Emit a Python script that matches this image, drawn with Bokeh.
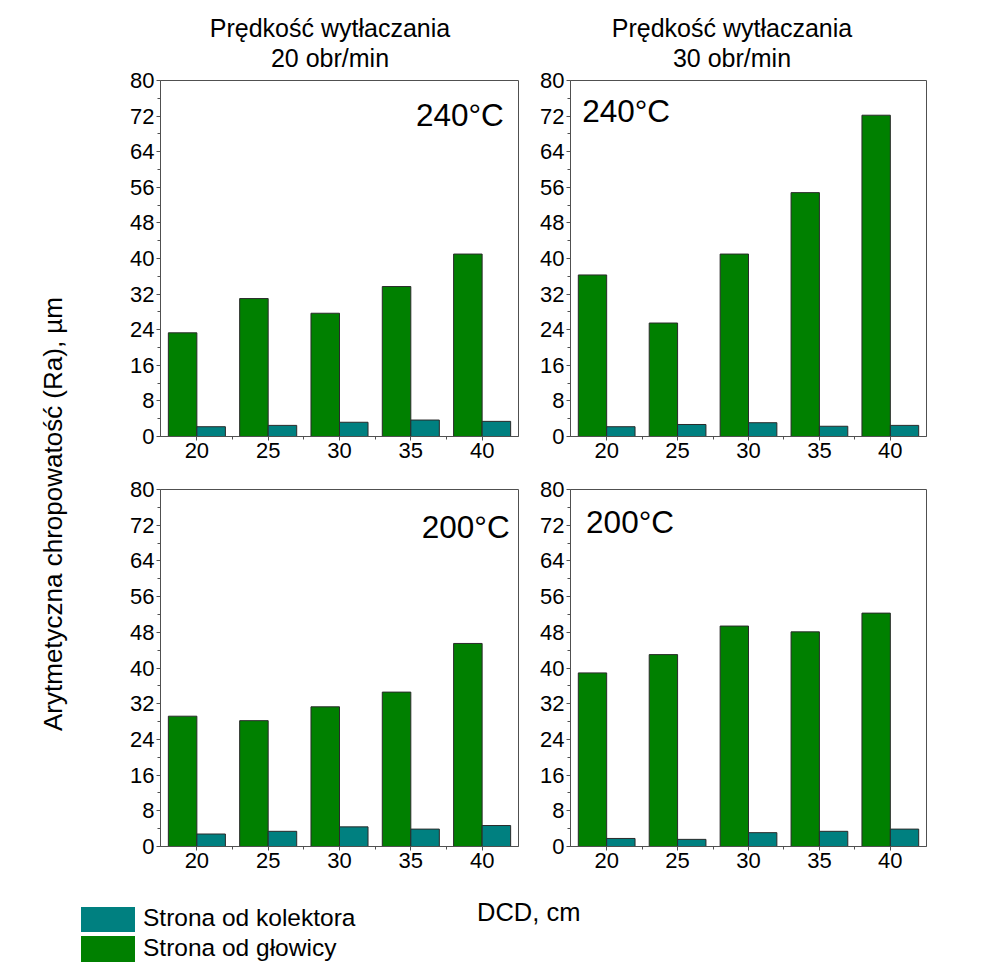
from bokeh.plotting import figure
from bokeh.models import Div, FixedTicker, Range1d, Label, ColumnDataSource
from bokeh.layouts import row, column
from bokeh.transform import dodge
from bokeh.embed import file_html
from bokeh.resources import INLINE

# ---------------- data ----------------
dcd = [20, 25, 30, 35, 40]                      # DCD, cm
tick_labels = ["20", "25", "30", "35", "40"]
y_ticks = [0, 8, 16, 24, 32, 40, 48, 56, 64, 72, 80]

series_names = ["Strona od kolektora", "Strona od głowicy"]
col_titles = ["Prędkość wytłaczania<br>20 obr/min", "Prędkość wytłaczania<br>30 obr/min"]
y_label = "Arytmetyczna chropowatość (Ra), µm"
x_label = "DCD, cm"

# 20 obr/min, 240 °C
head_20_240 = [23.3, 31.0, 27.7, 33.7, 41.0]
coll_20_240 = [2.2, 2.5, 3.2, 3.7, 3.4]
# 30 obr/min, 240 °C
head_30_240 = [36.3, 25.5, 41.0, 54.8, 72.2]
coll_30_240 = [2.2, 2.7, 3.1, 2.3, 2.5]
# 20 obr/min, 200 °C
head_20_200 = [29.2, 28.2, 31.3, 34.6, 45.5]
coll_20_200 = [2.8, 3.4, 4.4, 3.9, 4.7]
# 30 obr/min, 200 °C
head_30_200 = [38.9, 43.0, 49.4, 48.1, 52.3]
coll_30_200 = [1.8, 1.6, 3.1, 3.4, 3.9]

# ---------------- style ----------------
FONT = "Liberation Sans"
GREEN = "#008000"
TEAL = "#008080"
FRAME = "#505050"
BAR_LINE = "#2a2a2a"


def panel(head, coll, temp, temp_x, temp_y, temp_align, fw, fh, bl, br, bt, bb):
    src = ColumnDataSource(dict(x=dcd, head=head, coll=coll))
    p = figure(frame_width=fw, frame_height=fh,
               min_border_left=bl, min_border_right=br,
               min_border_top=bt, min_border_bottom=bb,
               x_range=Range1d(17.45, 42.55), y_range=Range1d(0, 80),
               output_backend="svg", toolbar_location=None, tools="")
    p.vbar(x=dodge("x", -1.0, range=p.x_range), top="head", width=2.0,
           fill_color=GREEN, line_color=BAR_LINE, line_width=1, source=src)
    p.vbar(x=dodge("x", 1.0, range=p.x_range), top="coll", width=2.0,
           fill_color=TEAL, line_color=BAR_LINE, line_width=1, source=src)

    p.xgrid.visible = False
    p.ygrid.visible = False
    p.outline_line_color = FRAME
    p.outline_line_width = 1
    p.background_fill_color = "white"
    p.border_fill_color = None

    p.xaxis.ticker = FixedTicker(ticks=dcd,
                                 minor_ticks=[v + 2.5 for v in dcd[:-1]])
    p.xaxis.major_label_overrides = {v: t for v, t in zip(dcd, tick_labels)}
    p.yaxis.ticker = FixedTicker(ticks=y_ticks,
                                 minor_ticks=[v + 4 for v in y_ticks[:-1]])
    for ax in (p.xaxis[0], p.yaxis[0]):
        ax.axis_line_color = FRAME
        ax.major_tick_line_color = FRAME
        ax.minor_tick_line_color = FRAME
        ax.major_tick_out = 4
        ax.major_tick_in = 0
        ax.minor_tick_out = 3
        ax.minor_tick_in = 0
        ax.major_label_standoff = 2
        ax.major_label_text_font = FONT
        ax.major_label_text_font_size = "22px"
        ax.major_label_text_color = "black"

    p.add_layout(Label(x=temp_x, y=temp_y, text=temp, text_align=temp_align,
                       text_baseline="alphabetic", text_font=FONT,
                       text_font_size="31.5px", text_color="black"))
    return p


tl = panel(head_20_240, coll_20_240, "240°C", 41.52, 72.3, "right", 358, 356, 50, 2, 13, 40)
tr = panel(head_30_240, coll_30_240, "240°C", 18.27, 73.2, "left", 356, 356, 50, 12, 13, 40)
bl = panel(head_20_200, coll_20_200, "200°C", 41.93, 71.6, "right", 358, 357, 50, 2, 13, 40)
br = panel(head_30_200, coll_30_200, "200°C", 18.55, 72.8, "left", 356, 357, 50, 12, 13, 40)

TXT = f"font-family:'{FONT}';color:black;white-space:nowrap;"

title_html = (
    f"<div style=\"position:relative;width:990px;height:57px;{TXT}\">"
    f"<div style=\"position:absolute;left:325px;top:8px;transform:translateX(-50%);"
    f"text-align:center;font-size:25px;line-height:30px;\">{col_titles[0]}</div>"
    f"<div style=\"position:absolute;left:727px;top:8px;transform:translateX(-50%);"
    f"text-align:center;font-size:25px;line-height:30px;\">{col_titles[1]}</div>"
    "</div>"
)
title_div = Div(text=title_html, width=990, height=57)

ylab_html = (
    f"<div style=\"position:relative;width:100px;height:780px;{TXT}\">"
    f"<div style=\"position:absolute;left:49px;top:442px;"
    f"transform:translate(-50%,-50%) rotate(-90deg);font-size:26px;\">{y_label}</div>"
    "</div>"
)
ylab_div = Div(text=ylab_html, width=100, height=780)

bottom_html = (
    f"<div style=\"position:relative;width:990px;height:72px;{TXT}\">"
    f"<div style=\"position:absolute;left:76px;top:16px;width:54px;height:25px;background:{TEAL};\"></div>"
    f"<div style=\"position:absolute;left:76px;top:45px;width:54px;height:26px;background:{GREEN};\"></div>"
    f"<div style=\"position:absolute;left:138px;top:15px;font-size:24.5px;line-height:24.5px;\">{series_names[0]}</div>"
    f"<div style=\"position:absolute;left:138px;top:45px;font-size:24.5px;line-height:24.5px;\">{series_names[1]}</div>"
    f"<div style=\"position:absolute;left:472px;top:9px;font-size:25.5px;line-height:25.5px;\">{x_label}</div>"
    "</div>"
)
bottom_div = Div(text=bottom_html, width=990, height=72)

layout = column(title_div,
                row(ylab_div, column(row(tl, tr), row(bl, br))),
                bottom_div)

html = file_html(layout, INLINE)
html = html.replace("<head>", "<head><style>html,body{overflow:hidden;}</style>", 1)
open("out.html", "w").write(html)
